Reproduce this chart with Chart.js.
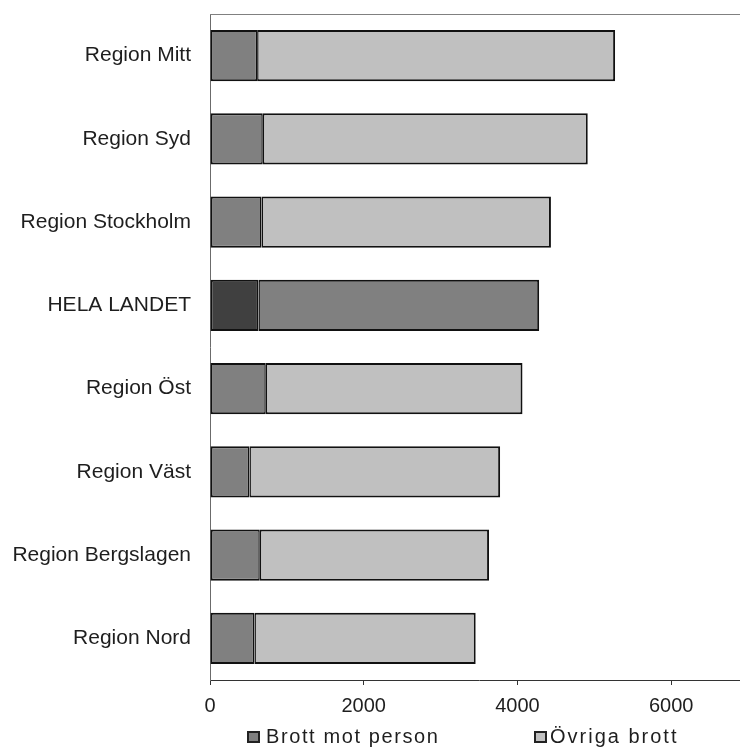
<!DOCTYPE html>
<html>
<head>
<meta charset="utf-8">
<script src="https://cdn.jsdelivr.net/npm/chart.js@4.4.1/dist/chart.umd.min.js"></script>
<style>
  html, body { margin: 0; padding: 0; background: #fff; overflow: hidden; }
  #wrap { position: relative; width: 740px; height: 749px; overflow: hidden; }
  #c { display: block; width: 748px; height: 749px; }
</style>
</head>
<body>
<div id="wrap"><canvas id="c" width="748" height="749"></canvas></div>
<script>
// ---- data ----
const categories = ['Region Mitt', 'Region Syd', 'Region Stockholm', 'HELA LANDET',
                    'Region Öst', 'Region Väst', 'Region Bergslagen', 'Region Nord'];
const brottMotPerson = [613, 687, 670, 630, 726, 513, 648, 578];
const ovrigaBrott    = [4658, 4228, 3766, 3653, 3340, 3262, 2983, 2879];
const seriesNames = ['Brott mot person', 'Övriga brott'];
const xTicks = [0, 2000, 4000, 6000];
const xMax = 7000;
const highlightCategory = 'HELA LANDET';

// ---- styles ----
const FONT = '"Liberation Sans", Arial, sans-serif';
const TEXT = '#1e1e1e';
const colPerson = ['#808080', '#404040'];   // normal, highlight
const colOvriga = ['#c0c0c0', '#808080'];

function pick(cols) {
  return (ctx) => categories[ctx.dataIndex] === highlightCategory ? cols[1] : cols[0];
}

const frame = {
  id: 'frame',
  beforeDatasetsDraw(chart) {
    const {ctx, chartArea: a} = chart;
    ctx.save();
    ctx.strokeStyle = '#808080';
    ctx.lineWidth = 1;
    ctx.beginPath();
    ctx.moveTo(a.left, a.top + 0.5);
    ctx.lineTo(a.right, a.top + 0.5);
    ctx.stroke();
    ctx.restore();
  },
  afterDraw(chart) {
    const {ctx, chartArea: a} = chart;
    ctx.save();
    ctx.fillStyle = '#ffffff';
    ctx.fillRect(733, a.top + 2, 20, a.bottom - a.top - 4);
    ctx.restore();
  }
};

const legendPlugin = {
  id: 'customLegend',
  afterDraw(chart) {
    const {ctx} = chart;
    const items = [
      {box: 247, text: 266, color: colPerson[0]},
      {box: 534, text: 550, color: colOvriga[0]}
    ];
    const cy = 737.5;
    ctx.save();
    ctx.font = '20px ' + FONT;
    ctx.textBaseline = 'middle';
    ctx.textAlign = 'left';
    chart.data.datasets.forEach((ds, i) => {
      const it = items[i];
      if ('letterSpacing' in ctx) ctx.letterSpacing = i === 0 ? '1.6px' : '2.0px';
      ctx.fillStyle = '#222';
      ctx.fillRect(it.box, cy - 6.5, 13, 12);
      ctx.fillStyle = it.color;
      ctx.fillRect(it.box + 2, cy - 4.5, 9, 8);
      ctx.fillStyle = TEXT;
      ctx.fillText(ds.label, it.text, cy);
    });
    if ('letterSpacing' in ctx) ctx.letterSpacing = '0px';
    ctx.restore();
  }
};

new Chart(document.getElementById('c'), {
  type: 'bar',
  data: {
    labels: categories,
    datasets: [
      {
        label: seriesNames[0],
        data: brottMotPerson,
        backgroundColor: pick(colPerson),
        borderColor: '#111111',
        borderWidth: {top: 2, bottom: 2, left: 2, right: 1.5},
        borderSkipped: false
      },
      {
        label: seriesNames[1],
        data: ovrigaBrott,
        backgroundColor: pick(colOvriga),
        borderColor: '#111111',
        borderWidth: {top: 2, bottom: 2, left: 1.5, right: 2},
        borderSkipped: false
      }
    ]
  },
  options: {
    indexAxis: 'y',
    responsive: false,
    maintainAspectRatio: false,
    devicePixelRatio: 1,
    animation: false,
    events: [],
    layout: { padding: { top: 14, left: 0, right: 0, bottom: 0 } },
    datasets: { bar: { categoryPercentage: 1.0, barPercentage: 0.614 } },
    plugins: { legend: { display: false }, tooltip: { enabled: false } },
    scales: {
      x: {
        stacked: true,
        min: 0,
        max: xMax,
        afterBuildTicks: (s) => { s.ticks = xTicks.map(v => ({ value: v })); },
        afterFit: (s) => { s.height = 69; s.paddingLeft = 0; s.paddingRight = 0; },
        grid: { display: true, drawOnChartArea: false, drawTicks: true, tickLength: 5, color: '#333333' },
        border: { display: true, color: '#333333', width: 1 },
        ticks: { color: TEXT, padding: 9, font: { family: FONT, size: 20 }, maxRotation: 0,
                 callback: (v) => String(v) }
      },
      y: {
        stacked: true,
        afterFit: (s) => { s.width = 210; s.paddingTop = 0; s.paddingBottom = 0; },
        grid: { display: true, drawOnChartArea: false, drawTicks: false },
        border: { display: true, color: '#6b6b6b', width: 1 },
        ticks: { color: TEXT, padding: 19, font: { family: FONT, size: 21 } }
      }
    }
  },
  plugins: [frame, legendPlugin]
});
</script>
</body>
</html>
